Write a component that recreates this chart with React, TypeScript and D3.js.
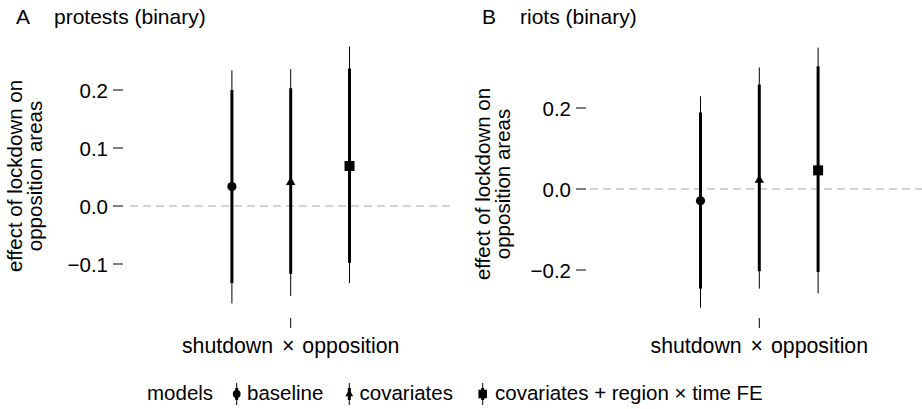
import React from "react";
import * as d3 from "d3";

const models = ["baseline", "covariates", "covariates + region × time FE"];
const shapes = ["circle", "triangle", "square"];
const category = "shutdown × opposition";

const protestsEst = [0.0335, 0.041, 0.069];
const protestsLo90 = [-0.133, -0.117, -0.098];
const protestsHi90 = [0.2, 0.203, 0.237];
const protestsLo95 = [-0.168, -0.155, -0.133];
const protestsHi95 = [0.234, 0.236, 0.275];
const protestsTicks = [-0.1, 0.0, 0.1, 0.2];

const riotsEst = [-0.029, 0.022, 0.046];
const riotsLo90 = [-0.246, -0.203, -0.205];
const riotsHi90 = [0.189, 0.258, 0.303];
const riotsLo95 = [-0.293, -0.246, -0.258];
const riotsHi95 = [0.229, 0.3, 0.349];
const riotsTicks = [-0.2, 0.0, 0.2];

const FONT = "'Liberation Sans', Arial, Helvetica, sans-serif";
const FS = 20.5;
const TFS = 21;

function Marker({ shape, x, y, s = 1 }: { shape: string; x: number; y: number; s?: number }) {
  if (shape === "circle") return <circle cx={x} cy={y} r={4.6 * s} fill="#000" />;
  if (shape === "triangle") {
    const sym = d3.symbol().type(d3.symbolTriangle).size(38 * s * s)();
    return <path d={sym as string} transform={`translate(${x},${y})`} fill="#000" />;
  }
  const h = 5 * s;
  return <rect x={x - h} y={y - h} width={2 * h} height={2 * h} fill="#000" />;
}

function Panel({
  letter, title, est, lo90, hi90, lo95, hi95, ticks, yDomain, yRange, center, tickX, plotLeft, plotRight, titleX, titleTextX, ytX, yMid,
}: any) {
  const y = d3.scaleLinear().domain(yDomain).range(yRange);
  const x = d3.scalePoint().domain(models).range([center - 58.8, center + 58.8]);
  const fmt = d3.format(".1f");
  const [w1, w2] = category.split(" × ");
  return (
    <g>
      <text x={titleX} y={24} fontSize={TFS} fontFamily={FONT}>{letter}</text>
      <text x={titleTextX} y={24} fontSize={TFS} fontFamily={FONT}>{title}</text>
      <line x1={plotLeft} x2={plotRight} y1={y(0)} y2={y(0)} stroke="#a6a6a6" strokeWidth={1.1} strokeDasharray="8,5" />
      {ticks.map((t: number) => (
        <g key={t}>
          <line x1={tickX} x2={tickX + 10} y1={y(t)} y2={y(t)} stroke="#000" strokeWidth={1} />
          <text x={tickX - 5} y={y(t)} textAnchor="end" dominantBaseline="central" fontSize={FS} fontFamily={FONT}>
            {t < 0 ? "\u2212" + fmt(-t) : fmt(t)}
          </text>
        </g>
      ))}
      <text transform={`translate(${ytX},${yMid}) rotate(-90)`} textAnchor="middle" fontSize={FS} fontFamily={FONT}>
        <tspan x={0} dy={0}>effect of lockdown on</tspan>
        <tspan x={0} dy={19.5}>opposition areas</tspan>
      </text>
      {models.map((m, i) => {
        const cx = x(m) as number;
        return (
          <g key={m}>
            <line x1={cx} x2={cx} y1={y(lo95[i])} y2={y(hi95[i])} stroke="#000" strokeWidth={1} />
            <line x1={cx} x2={cx} y1={y(lo90[i])} y2={y(hi90[i])} stroke="#000" strokeWidth={3} />
            <Marker shape={shapes[i]} x={cx} y={y(est[i])} />
          </g>
        );
      })}
      <line x1={center} x2={center} y1={318} y2={328} stroke="#000" strokeWidth={1} />
      <text x={center} y={353} textAnchor="middle" fontSize={21.3} fontFamily={FONT}>
        <tspan>{w1}</tspan>
        <tspan dx={3}>{" × "}</tspan>
        <tspan dx={2}>{w2}</tspan>
      </text>
    </g>
  );
}

export default function App() {
  const legendItems = [
    { x: 236.7, tx: 247 },
    { x: 349.3, tx: 359.5 },
    { x: 482.7, tx: 495 },
  ];
  return (
    <svg width={922} height={409} style={{ position: "absolute", left: 0, top: 0, background: "#fff" }}>
      <rect width={922} height={409} fill="#fff" />
      <Panel
        letter="A" title="protests (binary)" est={protestsEst} lo90={protestsLo90} hi90={protestsHi90}
        lo95={protestsLo95} hi95={protestsHi95} ticks={protestsTicks}
        yDomain={[-0.1, 0.2]} yRange={[264, 90]} center={290.7} tickX={113}
        plotLeft={130} plotRight={452} titleX={16} titleTextX={54} ytX={22} yMid={176}
      />
      <Panel
        letter="B" title="riots (binary)" est={riotsEst} lo90={riotsLo90} hi90={riotsHi90}
        lo95={riotsLo95} hi95={riotsHi95} ticks={riotsTicks}
        yDomain={[-0.2, 0.2]} yRange={[270, 108]} center={759.3} tickX={576}
        plotLeft={590} plotRight={922} titleX={482} titleTextX={520} ytX={490} yMid={184}
      />
      <text x={147} y={400} fontSize={FS} fontFamily={FONT}>models</text>
      {models.map((m, i) => (
        <g key={m}>
          <line x1={legendItems[i].x} x2={legendItems[i].x} y1={383} y2={405} stroke="#000" strokeWidth={1} />
          <line x1={legendItems[i].x} x2={legendItems[i].x} y1={388} y2={400} stroke="#000" strokeWidth={3} />
          <Marker shape={shapes[i]} x={legendItems[i].x} y={394} s={0.85} />
          <text x={legendItems[i].tx} y={400} fontSize={FS} fontFamily={FONT}>{m}</text>
        </g>
      ))}
    </svg>
  );
}
